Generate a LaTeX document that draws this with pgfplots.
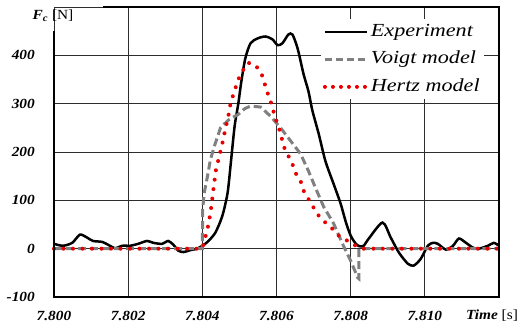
\documentclass[border=0pt]{standalone}
\usepackage{graphicx}
\usepackage{pgfplots}
\pgfplotsset{compat=1.18}
\usepackage{fontspec}
\setmainfont{Liberation Serif}
\usetikzlibrary{calc}
\definecolor{vgray}{RGB}{128,128,128}
\definecolor{hred}{RGB}{232,0,0}
\definecolor{gridc}{RGB}{45,45,45}
\newcommand{\sx}[1]{\scalebox{1.1}[1]{#1}}
\newcommand{\slg}[1]{\scalebox{1.2}[1]{#1}}
\begin{document}
\begin{tikzpicture}
\begin{axis}[
  scale only axis, width=445bp, height=290bp,
  xmin=7.800, xmax=7.812, ymin=-100, ymax=500,
  xtick={7.800,7.802,7.804,7.806,7.808,7.810,7.812},
  xticklabels={\sx{7.800},\sx{7.802},\sx{7.804},\sx{7.806},\sx{7.808},\sx{7.810},},
  ytick={-100,0,100,200,300,400,500},
  yticklabels={\sx{-100},\sx{0},\sx{100},\sx{200},\sx{300},\sx{400},},
  grid=major, major grid style={gridc, line width=0.9bp},
  major tick length=0pt,
  axis line style={draw=none},
  tick label style={font=\fontsize{14}{16}\selectfont\bfseries\itshape, inner sep=0pt},
  xticklabel style={anchor=center, yshift=-19bp},
  yticklabel style={anchor=east, xshift=-19bp},
  clip=false,
  legend style={at={(0.966,0.958)}, anchor=north east, draw=none, fill=white,
    font=\fontsize{18.5}{18.5}\selectfont\itshape, row sep=6.5bp, inner sep=2bp,
    nodes={inner sep=2bp, text height=13bp, text depth=4bp}},
  legend cell align=left,
]
\coordinate (sw) at (rel axis cs:0,0);
\coordinate (ne) at (rel axis cs:1,1);

\addplot[black, line width=2.5bp, smooth, tension=0.45,
  legend image code/.code={\draw[black, line width=2.5bp] (0bp,0bp) -- (42bp,0bp);}]
coordinates {
(7.80000,10) (7.80024,6) (7.80049,12) (7.80070,29) (7.80089,23) (7.80105,16)
(7.80130,14) (7.80146,8) (7.80165,1) (7.80184,6) (7.80205,6) (7.80227,10)
(7.80251,16) (7.80268,12) (7.80292,10) (7.80308,16) (7.80322,8) (7.80335,-4)
(7.80349,-7) (7.80368,-3) (7.80386,0) (7.80400,6) (7.80414,14) (7.80435,33)
(7.80454,68) (7.80468,115) (7.80476,171) (7.80487,253) (7.80497,300)
(7.80505,345) (7.80516,394) (7.80530,425) (7.80549,435) (7.80570,439)
(7.80589,433) (7.80603,421) (7.80616,425) (7.80632,443) (7.80643,443)
(7.80657,414) (7.80673,361) (7.80686,326) (7.80697,285) (7.80714,237)
(7.80732,181) (7.80754,134) (7.80773,93) (7.80787,55) (7.80800,27)
(7.80814,10) (7.80824,5) (7.80835,6) (7.80849,21) (7.80886,54) (7.80908,23)
(7.80930,-8) (7.80954,-31) (7.80970,-35) (7.80989,-21) (7.81008,6)
(7.81022,12) (7.81035,10) (7.81057,-2) (7.81076,6) (7.81092,21) (7.81111,12)
(7.81130,2) (7.81146,0) (7.81170,6) (7.81186,12) (7.81200,6)
};
\addlegendentry{\slg{Experiment}}

\addplot[vgray, line width=3bp, dash pattern=on 8bp off 4bp,
  legend image code/.code={\draw[vgray, line width=3bp, dash pattern=on 7.5bp off 3.5bp] (0bp,0bp) -- (42bp,0bp);}]
coordinates {
(7.80000,0) (7.80400,0) (7.80401,82) (7.80405,115) (7.80414,150) (7.80422,185)
(7.80435,218) (7.80449,250) (7.80470,266) (7.80497,278) (7.80515,290)
(7.80530,295) (7.80557,293) (7.80584,274) (7.80611,250) (7.80638,223)
(7.80665,196) (7.80686,161) (7.80705,126) (7.80727,87) (7.80754,52)
(7.80778,10) (7.80800,-25) (7.80819,-60) (7.80822,-62) (7.80822,0) (7.81200,0)
};
\addlegendentry{\slg{Voigt model}}

\addplot[hred, line width=4bp, line cap=round, dash pattern=on 0bp off 9.5bp,
  legend image code/.code={\draw[hred, line width=4bp, line cap=round, dash pattern=on 0bp off 8bp] (0bp,0bp) -- (42bp,0bp);}]
coordinates {
(7.80000,0) (7.80400,0) (7.80414,41) (7.80422,74) (7.80427,105) (7.80432,136)
(7.80437,165) (7.80446,192) (7.80454,218) (7.80462,247) (7.80470,274)
(7.80476,300) (7.80484,320) (7.80497,350) (7.80508,367) (7.80522,384)
(7.80532,384) (7.80546,377) (7.80560,361) (7.80576,322) (7.80584,305)
(7.80598,268) (7.80611,239) (7.80619,212) (7.80632,192) (7.80643,175)
(7.80651,157) (7.80665,140) (7.80673,120) (7.80686,103) (7.80700,85)
(7.80714,68) (7.80732,54) (7.80751,41) (7.80768,27) (7.80792,16)
(7.80814,6) (7.80835,0) (7.81200,0)
};
\addlegendentry{\slg{Hertz model}}

\draw[black, line width=2.8bp, line join=miter]
  (axis cs:7.800,450) -- (axis cs:7.800,-100) -- (axis cs:7.812,-100)
  -- (axis cs:7.812,500) -- (axis cs:7.80132,500);
\node[font=\fontsize{14}{16}\selectfont, inner sep=0pt] at ([xshift=-7bp,yshift=-19bp]axis cs:7.812,-100)
  {\sx{\textbf{\textit{Time}} [s]}};
\node[font=\fontsize{14}{16}\selectfont, inner sep=0pt] at ([xshift=-1bp,yshift=-9bp]axis cs:7.800,500)
  {\sx{\textbf{\textit{F\textsubscript{c}}} [N]}};
\end{axis}
\pgfresetboundingbox
\path ($(sw)+(-54bp,-32bp)$) rectangle ($(ne)+(23bp,7bp)$);
\end{tikzpicture}
\end{document}
